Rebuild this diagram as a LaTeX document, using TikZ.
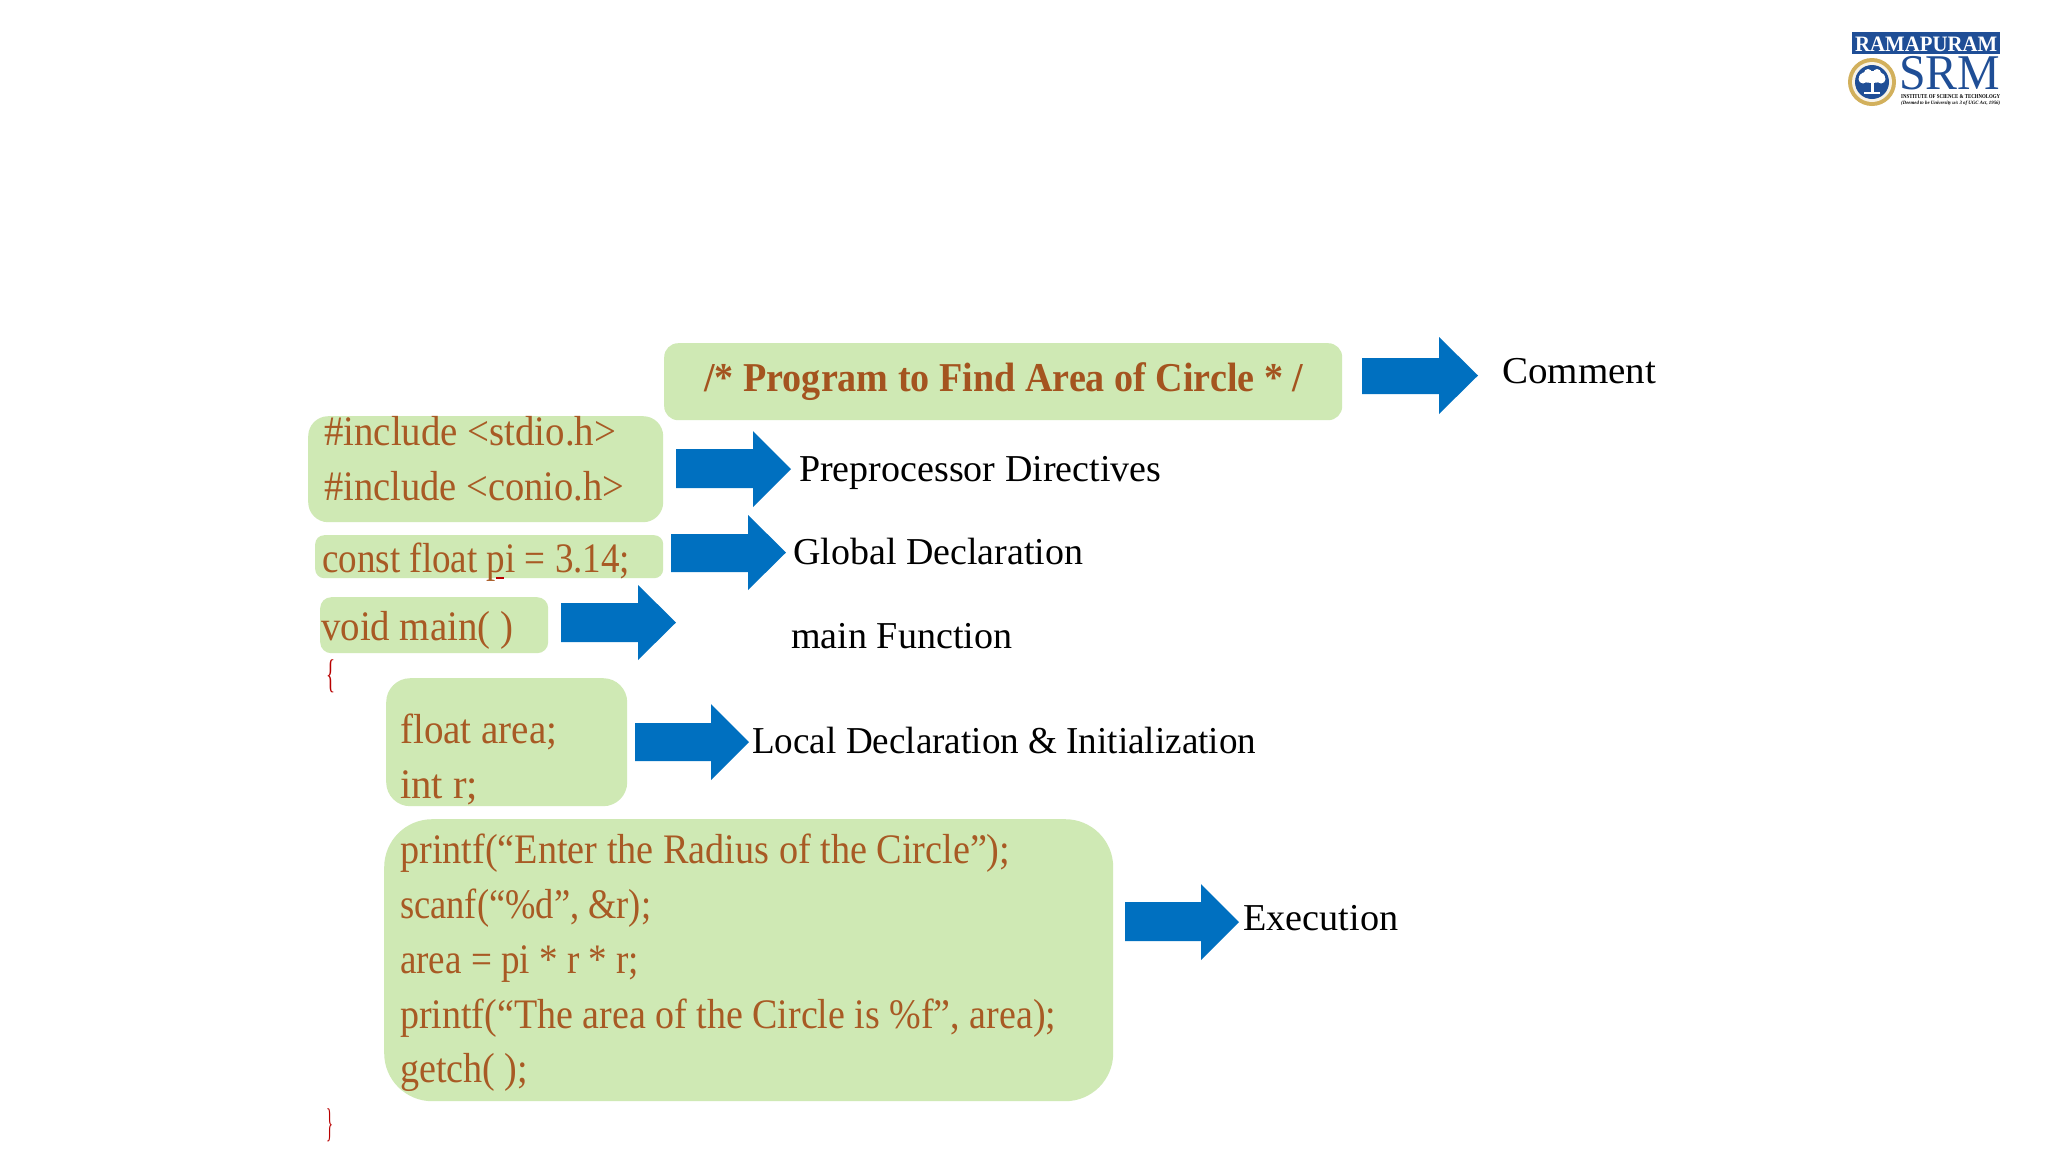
\documentclass[tikz,border=0pt]{standalone}
\usepackage{fontspec}
\usepackage{graphicx}
\setmainfont{Liberation Serif}
\usetikzlibrary{shapes.geometric}
\definecolor{boxgreen}{HTML}{CFE9B4}
\definecolor{codetxt}{HTML}{A85A24}
\definecolor{titletxt}{HTML}{A4541F}
\definecolor{arrowblue}{HTML}{0070C0}
\definecolor{bracered}{HTML}{B80000}
\definecolor{logoblue}{HTML}{1F4E96}
\definecolor{logogold}{HTML}{D2B05C}
\newcommand{\fitw}[2]{\resizebox{#1pt}{\height}{#2}}
\tikzset{
  x=1pt,y=-1pt,
  greenbox/.style={fill=boxgreen,draw=none,inner sep=0pt,anchor=north west},
  code/.style={text=codetxt,inner sep=0pt,anchor=base west,font=\fontsize{42}{42}\selectfont},
  titlecode/.style={text=titletxt,inner sep=0pt,anchor=base west,font=\fontsize{41}{41}\selectfont\bfseries},
  label/.style={text=black,inner sep=0pt,anchor=base west,font=\fontsize{38}{38}\selectfont},
  bracetxt/.style={text=bracered,inner sep=0pt,anchor=base west,font=\fontsize{40}{40}\selectfont},
  blockarrow/.style={fill=arrowblue,draw=none},
}
% x-left, x-head, x-tip, y-top, y-shaft-top, y-shaft-bottom, y-bottom
\newcommand{\blockarr}[7]{\fill[blockarrow] (#1,#5) -- (#2,#5) -- (#2,#4) -- (#3,{(#4+#7)/2}) -- (#2,#7) -- (#2,#6) -- (#1,#6) -- cycle;}
\begin{document}
\begin{tikzpicture}
\useasboundingbox (0,0) rectangle (2048,1152);
\fill[white] (0,0) rectangle (2048,1152);
% boxes
\node[greenbox,minimum width=678pt,minimum height=77pt,rounded corners=14pt] (bTitle) at (664,343) {};
\node[greenbox,minimum width=355pt,minimum height=106pt,rounded corners=20pt] (bInc) at (308,416) {};
\node[greenbox,minimum width=348pt,minimum height=43pt,rounded corners=9pt] (bConst) at (315,535) {};
\node[greenbox,minimum width=228pt,minimum height=56pt,rounded corners=11pt] (bVoid) at (320,597) {};
\node[greenbox,minimum width=241pt,minimum height=128pt,rounded corners=24pt] (bLocal) at (386,678) {};
\node[greenbox,minimum width=729pt,minimum height=282pt,rounded corners=48pt] (bExec) at (384,819) {};
% arrows
\blockarr{1362}{1439}{1478}{337}{358}{394}{414}
\blockarr{676}{753}{791}{431}{449}{488}{507}
\blockarr{671}{748}{786}{515}{534}{572}{590}
\blockarr{561}{638}{676}{585}{603}{642}{660}
\blockarr{635}{711}{749}{704}{723}{761}{780}
\blockarr{1125}{1201}{1239}{884}{902}{941}{960}
% code
\node[titlecode] (tTitle) at (704,391) {\fitw{599}{/* Program to Find Area of Circle * /}};
\node[code] (tInc1) at (324,445) {\fitw{292}{\#include <stdio.h>}};
\node[code] (tInc2) at (324,500) {\fitw{300}{\#include <conio.h>}};
\node[code] (tConst) at (322,572) {\fitw{308}{const float pi = 3.14;}};
\draw[bracered,line width=1.5pt] (496,578) -- (504,578);
\node[code] (tVoid) at (321,640) {\fitw{192}{void main( )}};
\node[bracetxt] (tOpen) at (326,687) {\fitw{9}{\{}};
\node[code] (tFloat) at (400,743) {\fitw{157}{float area;}};
\node[code] (tInt) at (400,798) {\fitw{78}{int r;}};
\node[code] (tP1) at (400,863) {\fitw{610}{printf(“Enter the Radius of the Circle”);}};
\node[code] (tP2) at (400,918) {\fitw{251}{scanf(“\%d”, \&r);}};
\node[code] (tP3) at (400,973) {\fitw{239}{area = pi * r * r;}};
\node[code] (tP4) at (400,1028) {\fitw{656}{printf(“The area of the Circle is \%f”, area);}};
\node[code] (tP5) at (400,1082) {\fitw{128}{getch( );}};
\node[bracetxt] (tClose) at (326,1136) {\fitw{7}{\}}};
% labels
\node[label] (lComment) at (1502,383) {\fitw{154}{Comment}};
\node[label] (lPre) at (799,481) {\fitw{362}{Preprocessor Directives}};
\node[label] (lGlobal) at (793,564) {\fitw{290}{Global Declaration}};
\node[label] (lMain) at (791,648) {\fitw{221}{main Function}};
\node[label] (lLocal) at (752,753) {\fitw{504}{Local Declaration \& Initialization}};
\node[label] (lExec) at (1243,930) {\fitw{155}{Execution}};
% logo
\fill[logoblue] (1852,32) rectangle (2000,54);
\node[inner sep=0pt,anchor=base west,text=white,font=\fontsize{22}{22}\selectfont\bfseries] (logoA) at (1855,51) {\fitw{142}{RAMAPURAM}};
\node[inner sep=0pt,anchor=base west,text=logoblue,font=\fontsize{50}{50}\selectfont] (logoB) at (1899,89) {\fitw{101}{SRM}};
\node[inner sep=0pt,anchor=base west,text=black,font=\fontsize{6}{6}\selectfont\bfseries] (logoC) at (1901,98) {\fitw{99}{INSTITUTE OF SCIENCE \& TECHNOLOGY}};
\node[inner sep=0pt,anchor=base west,text=black,font=\fontsize{5}{5}\selectfont\bfseries\itshape] (logoD) at (1901,104) {\fitw{99}{(Deemed to be University u/s 3 of UGC Act, 1956)}};
\fill[logogold] (1872,82) circle (24);
\fill[white!85!logogold] (1872,82) circle (20);
\fill[logoblue] (1872,82) circle (17);
\fill[white] (1872,77) ellipse (13 and 6);
\fill[white] (1863,79) circle (4.5);
\fill[white] (1881,79) circle (4.5);
\fill[white] (1868,73) circle (4);
\fill[white] (1877,73) circle (4);
\fill[white] (1870.5,82) rectangle (1873.5,92);
\fill[white] (1864,92) rectangle (1880,93.5);
\end{tikzpicture}
\end{document}
